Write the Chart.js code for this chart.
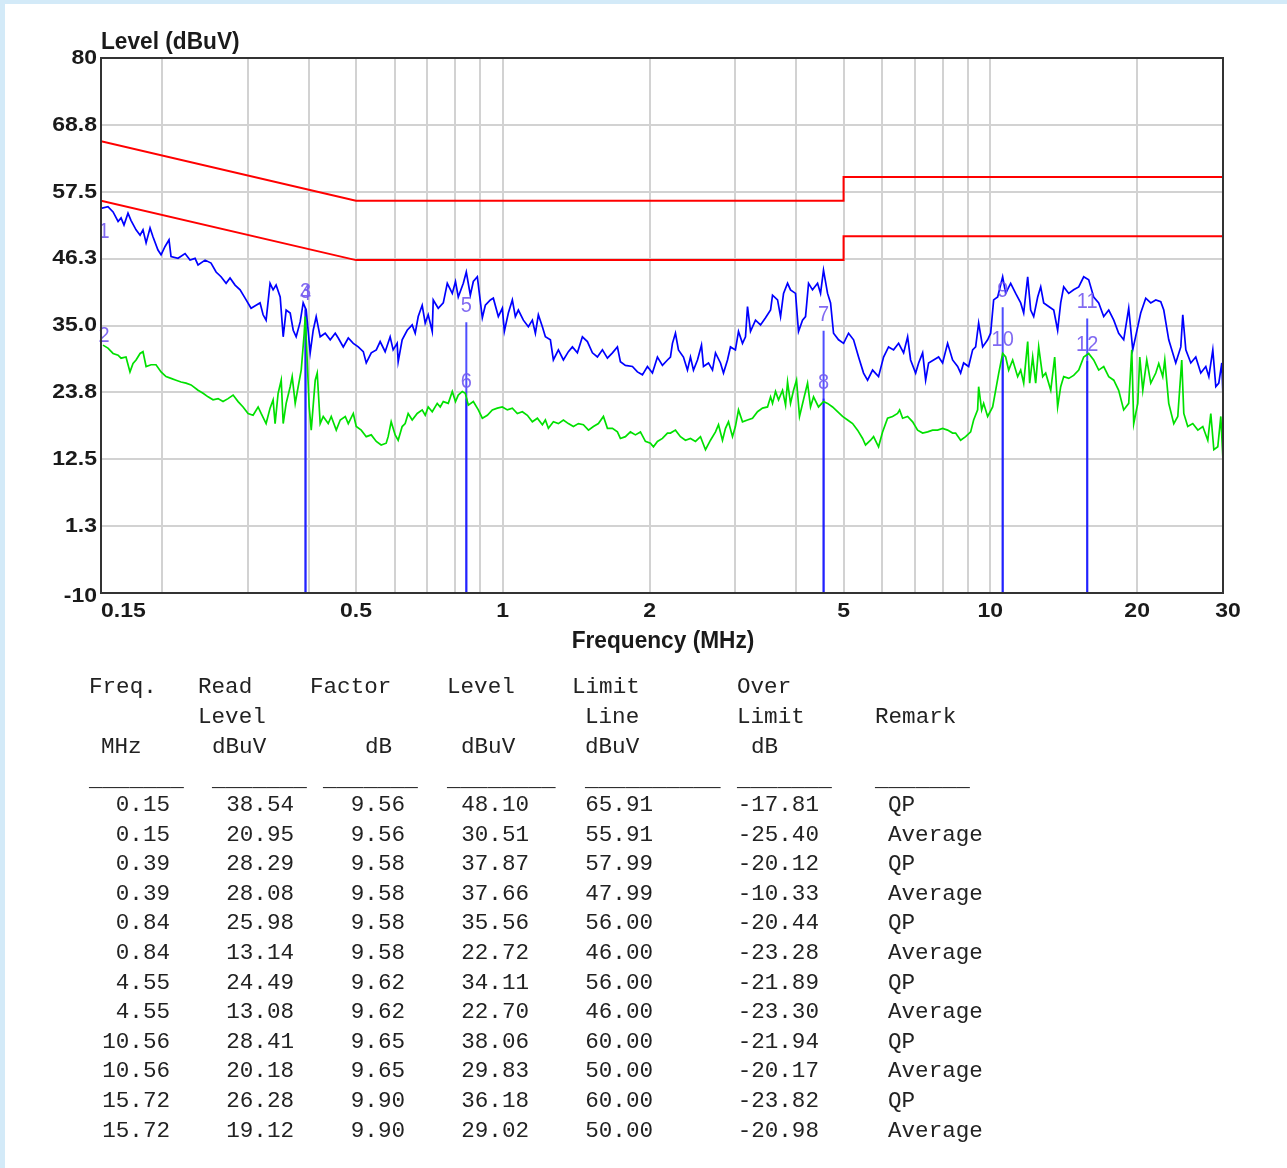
<!DOCTYPE html>
<html><head><meta charset="utf-8">
<script src="https://cdn.jsdelivr.net/npm/chart.js@4/dist/chart.umd.min.js"></script>
<style>
html,body{margin:0;padding:0;background:#fff;}
body{width:1287px;height:1168px;position:relative;overflow:hidden;}
#bandTop{position:absolute;left:0;top:0;width:1287px;height:4px;background:#d3eaf8;}
#bandLeft{position:absolute;left:0;top:0;width:5px;height:1168px;background:#d3eaf8;}
#wrap{position:absolute;left:0;top:0;width:1287px;height:665px;}
#tbl{position:absolute;left:0;top:0;width:1287px;height:1168px;font-family:"Liberation Mono",monospace;font-size:22.6px;color:#222;}
#tbl span{position:absolute;white-space:pre;line-height:26px;height:26px;}
</style></head>
<body>
<div id="bandTop"></div><div id="bandLeft"></div>
<div id="wrap"><canvas id="c" width="1287" height="665"></canvas></div>
<div id="tbl"></div>
<script>
// ---------- data ----------
const yTickValues = [-10, 1.25, 12.5, 23.75, 35, 46.25, 57.5, 68.75, 80];
const yTickLabels = ['-10', '1.3', '12.5', '23.8', '35.0', '46.3', '57.5', '68.8', '80'];
const xGridValues = [0.15,0.2,0.3,0.4,0.5,0.6,0.7,0.8,0.9,1,2,3,4,5,6,7,8,9,10,20,30];
const xLabelValues = [0.15, 0.5, 1, 2, 5, 10, 20, 30];
const xLabelTexts = ['0.15', '0.5', '1', '2', '5', '10', '20', '30'];

const qpLimitFreq = [0.15, 0.5, 5, 5, 30];
const qpLimitLevel = [66, 56, 56, 60, 60];
const avLimitFreq = [0.15, 0.5, 5, 5, 30];
const avLimitLevel = [56, 46, 46, 50, 50];

const qpFreq = [0.150,0.155,0.1588,0.1626,0.1649,0.1672,0.1704,0.1728,0.1770,0.1804,
0.1829,0.1856,0.1891,0.1918,0.1963,0.1992,0.2030,0.2068,0.2088,0.2158,
0.2231,0.2284,0.2339,0.2372,0.2452,0.2522,0.2583,0.2644,0.2708,0.2759,
0.2825,0.2893,0.2962,0.3047,0.3120,0.3179,0.3225,0.3271,0.3333,0.3381,
0.3429,0.3496,0.3546,0.3596,0.3665,0.3718,0.3770,0.3842,0.3897,0.3953,
0.4028,0.4086,0.4144,0.4223,0.4324,0.4428,0.4534,0.4599,0.4709,0.4822,
0.4937,0.5055,0.5176,0.5249,0.5375,0.5504,0.5605,0.5739,0.5876,0.5960,
0.6074,0.6103,0.6219,0.6368,0.6521,0.6614,0.6709,0.6836,0.6934,0.7033,
0.7168,0.7202,0.7374,0.7552,0.7696,0.7880,0.8000,0.8106,0.8301,0.8419,
0.8581,0.8703,0.8869,0.9081,0.9211,0.9431,0.9565,0.9794,0.998,1.0076,
1.0268,1.0464,1.0613,1.0765,1.1023,1.1286,1.1501,1.1666,1.1832,1.2058,
1.2230,1.2523,1.2701,1.3005,1.3316,1.3634,1.3895,1.4226,1.4567,1.4915,
1.5272,1.5637,1.6011,1.6394,1.6786,1.7185,1.7430,1.7846,1.8448,1.8888,
1.9340,1.9802,2.0276,2.0761,2.1258,2.1766,2.2076,2.2287,2.2604,2.2928,
2.3474,2.3922,2.4264,2.4612,2.5083,2.5562,2.5805,2.6422,2.6925,2.7310,
2.7960,2.8359,2.8902,2.9313,3.000,3.0444,3.1023,3.1467,3.1767,3.222,
3.299,3.378,3.459,3.542,3.575,3.661,3.713,3.766,3.838,3.892,
3.985,4.042,4.119,4.178,4.238,4.318,4.422,4.485,4.548,4.636,
4.702,4.769,4.883,5.000,5.119,5.242,5.367,5.495,5.600,5.734,
5.898,6.040,6.184,6.332,6.484,6.639,6.766,6.862,7.027,7.127,
7.263,7.367,7.470,7.649,7.832,7.981,8.172,8.367,8.568,8.690,
8.815,9.025,9.197,9.329,9.462,9.643,9.873,10.014,10.157,10.351,
10.598,10.75,11.007,11.27,11.54,11.705,11.928,12.098,12.271,12.505,
12.684,12.865,13.172,13.49,13.74,13.94,14.14,14.48,14.82,15.18,
15.54,15.91,16.29,16.68,17.08,17.49,17.91,18.33,18.77,19.22,
19.59,20.06,20.34,20.83,21.33,21.84,22.36,22.68,23.22,24.0,
24.58,24.81,25.17,25.77,26.38,27.01,27.66,28.06,28.59,29.0,
29.41,29.83,30.0];
const qpLevel = [54.7,55.0,54.1,52.5,53.1,51.9,53.9,52.7,51.1,50.2,
51.1,48.9,51.4,49.9,47.7,46.9,48.3,49.4,46.6,46.3,
47.1,46.0,46.3,45.2,46.0,45.5,44.0,43.2,42.1,43.0,
41.8,41.0,39.6,37.9,38.4,38.8,36.8,35.9,42.1,41.0,
41.8,39.8,33.1,37.6,37.1,34.2,33.1,35.6,38.8,37.6,
30.4,34.2,36.5,33.1,33.7,32.6,33.7,32.9,31.4,32.9,
32.0,31.4,30.6,28.7,30.4,30.9,32.3,30.6,33.1,30.9,
32.0,28.9,32.6,34.2,35.1,33.7,36.5,38.4,35.4,36.8,
34.0,39.3,37.9,38.8,42.1,40.4,42.4,39.8,42.1,44.0,
40.1,42.4,43.2,36.3,38.4,39.3,39.6,36.5,37.9,34.0,
37.1,39.3,36.5,37.6,35.9,34.8,35.9,33.7,36.8,34.8,
33.1,32.6,29.2,30.9,29.2,30.6,31.4,30.4,33.1,32.3,
30.4,29.7,30.9,29.5,30.4,31.4,28.9,28.3,28.1,27.2,
26.7,28.1,27.0,29.7,28.3,29.2,29.7,32.0,33.7,30.9,
29.7,27.5,29.7,27.5,29.2,31.7,28.1,28.7,27.5,30.4,
28.7,27.0,29.2,31.4,30.9,34.0,32.0,33.1,38.2,34.0,
35.9,35.1,36.3,37.6,40.1,39.3,36.5,40.4,42.1,41.0,
40.4,34.0,35.9,36.5,42.1,41.0,42.1,40.4,44.3,40.4,
38.8,33.7,32.6,32.0,33.7,32.6,29.7,27.0,25.8,27.5,
26.4,29.7,31.4,30.9,32.0,30.4,33.1,29.2,27.0,28.7,
30.4,25.8,28.7,29.2,29.7,28.7,32.0,29.2,28.1,27.0,
28.7,28.1,30.9,31.4,35.4,31.4,32.6,33.7,39.3,39.8,
43.2,40.4,42.1,40.4,38.8,37.1,43.2,37.6,36.5,39.8,
41.5,38.8,38.2,37.6,34.2,38.8,41.5,40.4,41.0,41.5,
43.2,42.7,39.8,38.8,36.5,37.6,35.9,33.7,32.6,37.9,
30.9,34.8,37.1,39.6,38.8,39.3,39.0,37.6,32.6,28.7,
31.4,36.8,30.9,28.7,29.7,27.0,28.1,26.4,30.9,24.7,
25.3,28.7,23.0];

const avFreq = [0.1514,0.1550,0.1588,0.1626,0.1649,0.1688,0.1720,0.1745,0.1770,0.1804,
0.1829,0.1856,0.1900,0.1945,0.1992,0.2039,0.2088,0.2138,0.2189,0.2241,
0.2295,0.2372,0.2429,0.2487,0.2546,0.2607,0.2669,0.2733,0.2799,0.2866,
0.2934,0.3004,0.3076,0.3150,0.3195,0.3271,0.3333,0.3381,0.3413,0.3462,
0.3513,0.3546,0.3596,0.3665,0.3700,0.3753,0.3806,0.3861,0.3916,0.3934,
0.3953,0.4009,0.4048,0.4125,0.4164,0.4223,0.4284,0.4386,0.4449,0.4556,
0.4642,0.4754,0.4822,0.4937,0.5007,0.5126,0.5249,0.5375,0.5504,0.5632,
0.5767,0.5821,0.5905,0.6017,0.6103,0.6219,0.6308,0.6398,0.6521,0.6677,
0.6836,0.6934,0.7033,0.7168,0.7339,0.7444,0.7552,0.7732,0.7880,0.8000,
0.8106,0.8261,0.8379,0.8500,0.8703,0.8911,0.9081,0.9298,0.9520,0.9748,
0.998,1.022,1.0464,1.0714,1.097,1.1233,1.1501,1.1777,1.2058,1.2230,
1.2405,1.2701,1.3005,1.3316,1.3634,1.3961,1.4294,1.4635,1.499,1.5345,
1.5711,1.6087,1.6394,1.6786,1.7185,1.7430,1.7846,1.8274,1.8711,1.9158,
1.9615,2.0085,2.0372,2.0761,2.1258,2.1766,2.2076,2.2604,2.3145,2.3697,
2.4264,2.4847,2.544,2.605,2.667,2.731,2.770,2.8225,2.8629,2.9037,
2.9592,3.0,3.0444,3.1023,3.1767,3.2526,3.3303,3.41,3.4916,3.542,
3.575,3.626,3.678,3.748,3.802,3.838,3.892,3.948,4.004,4.061,
4.138,4.218,4.278,4.339,4.442,4.548,4.636,4.747,4.860,4.976,
5.096,5.218,5.342,5.470,5.547,5.680,5.761,5.898,6.011,6.155,
6.302,6.453,6.515,6.608,6.766,6.928,7.093,7.263,7.437,7.613,
7.794,7.981,8.172,8.367,8.488,8.690,8.898,9.112,9.241,9.417,
9.462,9.597,9.688,9.873,10.109,10.253,10.40,10.598,10.75,10.903,
11.111,11.377,11.54,11.705,11.928,12.041,12.213,12.387,12.564,12.804,
12.986,13.30,13.55,13.74,13.94,14.14,14.48,14.82,15.18,15.54,
15.91,16.29,16.68,17.08,17.49,17.91,18.33,18.77,19.22,19.50,
19.68,20.06,20.25,20.54,20.93,21.33,21.84,22.15,22.57,22.79,
23.22,23.78,24.23,24.69,24.93,25.40,26.01,26.64,27.27,27.92,
28.32,28.73,29.27,29.69,30.0];
const avLevel = [31.7,31.2,30.3,30.0,29.5,29.7,27.2,28.6,29.2,30.3,
30.6,28.1,28.4,28.4,27.2,26.4,26.1,25.8,25.5,25.3,
25.0,24.1,23.6,23.0,22.5,22.7,22.2,22.7,23.3,22.2,
21.3,20.2,19.9,21.3,20.2,18.5,21.1,22.5,18.5,23.6,
25.8,18.5,21.9,24.7,26.4,21.9,24.7,27.5,33.7,36.5,
33.1,21.3,17.4,25.8,27.0,18.5,19.7,18.5,19.7,17.4,
19.1,19.7,18.5,20.2,18.0,17.4,16.3,16.6,15.5,14.9,
15.2,16.3,18.8,16.6,15.7,18.0,18.5,20.2,19.1,20.2,
20.8,19.9,21.3,20.5,21.9,21.3,22.2,21.9,23.9,22.2,
23.3,23.9,23.6,21.6,22.2,20.8,19.4,19.9,20.8,21.1,
21.3,20.8,21.1,20.2,20.5,19.9,18.8,19.4,18.3,19.1,
17.7,18.8,18.5,19.1,18.5,18.0,18.5,18.3,17.4,18.0,
18.5,19.7,17.7,17.7,17.1,16.0,16.3,17.1,16.6,17.1,
15.5,15.2,14.6,15.5,16.0,16.9,16.9,17.4,16.3,15.7,
16.0,15.5,16.3,14.1,15.7,17.1,18.3,15.7,17.7,18.8,
16.3,18.0,20.8,18.8,19.1,19.4,20.5,21.1,21.3,23.0,
21.9,23.9,22.5,24.1,21.6,25.5,21.9,24.1,25.8,19.7,
22.5,25.3,21.3,23.0,21.3,22.2,21.9,21.3,20.5,19.7,
19.1,18.5,17.4,16.0,14.9,15.7,16.3,14.6,17.1,19.4,
19.7,20.2,20.8,19.4,19.7,18.8,17.4,16.9,17.1,17.4,
17.4,17.7,17.4,16.9,16.9,15.7,16.3,17.1,19.1,20.8,
24.7,20.8,21.9,19.7,21.3,24.1,26.9,30.3,29.7,27.5,
29.2,26.4,27.5,25.3,32.3,25.3,29.7,25.3,31.4,26.4,
27.0,24.1,29.7,21.3,24.7,26.4,26.1,26.6,27.5,29.7,
30.3,29.2,27.5,28.1,26.4,25.8,24.1,20.8,21.9,30.9,
18.5,21.9,29.7,24.1,29.2,25.3,27.0,28.6,26.4,29.2,
21.9,18.5,19.7,29.2,20.2,18.0,18.5,17.4,18.0,15.7,
20.2,14.1,14.6,19.7,12.4];

// table / markers
const tblFreq = [0.15,0.15,0.39,0.39,0.84,0.84,4.55,4.55,10.56,10.56,15.72,15.72];
const tblRead = [38.54,20.95,28.29,28.08,25.98,13.14,24.49,13.08,28.41,20.18,26.28,19.12];
const tblFactor = [9.56,9.56,9.58,9.58,9.58,9.58,9.62,9.62,9.65,9.65,9.90,9.90];
const tblLevel = [48.10,30.51,37.87,37.66,35.56,22.72,34.11,22.70,38.06,29.83,36.18,29.02];
const tblLimit = [65.91,55.91,57.99,47.99,56.00,46.00,56.00,46.00,60.00,50.00,60.00,50.00];
const tblOver = [-17.81,-25.40,-20.12,-10.33,-20.44,-23.28,-21.89,-23.30,-21.94,-20.17,-23.82,-20.98];
const tblRemark = ['QP','Average','QP','Average','QP','Average','QP','Average','QP','Average','QP','Average'];
// marker positions as seen on the plot
const mkFreq = [0.15,0.15,0.394,0.394,0.842,0.842,4.55,4.55,10.6,10.6,15.8,15.8];

// ---------- chart ----------
const pts = (fx, ly) => fx.map((f, i) => ({x: f, y: ly[i]}));
const datasets = [
  {data: pts(avFreq, avLevel), borderColor: '#00e000', borderWidth: 1.7},
  {data: pts(qpFreq, qpLevel), borderColor: '#0000ff', borderWidth: 1.7},
  {data: pts(qpLimitFreq, qpLimitLevel), borderColor: '#ff0000', borderWidth: 2},
  {data: pts(avLimitFreq, avLimitLevel), borderColor: '#ff0000', borderWidth: 2},
];
mkFreq.forEach((f, i) => {
  datasets.push({data: [{x: f, y: -10}, {x: f, y: tblLevel[i]}], borderColor: 'rgba(20,20,255,0.75)', borderWidth: 2, clip: 4});
});
datasets.forEach(d => { d.pointRadius = 0; d.tension = 0; d.fill = false; });

function txt(ctx, s, x, y, align, font, sx, sy, color) {
  ctx.save();
  ctx.translate(x, y);
  ctx.scale(sx, sy);
  ctx.font = font;
  ctx.textAlign = align;
  ctx.textBaseline = 'middle';
  ctx.fillStyle = color;
  ctx.fillText(s, 0, 0);
  ctx.restore();
}
const TF = "bold 20px 'Liberation Sans', Arial, sans-serif";
const deco = {
  id: 'deco',
  afterDatasetsDraw(chart) {
    const {ctx, scales: {x, y}} = chart;
    mkFreq.forEach((f, i) => {
      let px = x.getPixelForValue(f);
      if (i < 2) px += 3;
      const py = y.getPixelForValue(tblLevel[i]) - 16;
      txt(ctx, String(i + 1), px, py, 'center', "20px 'Liberation Sans', Arial, sans-serif", 1, 1.08, 'rgba(115,90,240,0.9)');
    });
  },
  afterDraw(chart) {
    const {ctx, chartArea: a, scales: {x, y}} = chart;
    ctx.save();
    ctx.strokeStyle = '#333';
    ctx.lineWidth = 2;
    ctx.strokeRect(a.left, a.top, a.right - a.left, a.bottom - a.top);
    ctx.restore();
    yTickValues.forEach((v, i) => {
      const py = y.getPixelForValue(v) + (i === 0 ? 3 : 0);
      txt(ctx, yTickLabels[i], 97, py, 'right', TF, 1.15, 1.05, '#1a1a1a');
    });
    xLabelValues.forEach((v, i) => {
      let px = x.getPixelForValue(v);
      let al = 'center';
      if (i === 0) { al = 'left'; }
      if (i === xLabelValues.length - 1) px += 5;
      txt(ctx, xLabelTexts[i], px, 611, al, TF, 1.15, 1.05, '#1a1a1a');
    });
    txt(ctx, 'Level (dBuV)', 101, 42, 'left', "bold 21px 'Liberation Sans', Arial, sans-serif", 1.08, 1.15, '#1a1a1a');
    txt(ctx, 'Frequency (MHz)', 663, 641, 'center', "bold 21px 'Liberation Sans', Arial, sans-serif", 1.08, 1.15, '#1a1a1a');
  }
};

new Chart(document.getElementById('c'), {
  type: 'line',
  data: {datasets},
  plugins: [deco],
  options: {
    responsive: false,
    animation: false,
    devicePixelRatio: 1,
    layout: {padding: {left: 0, right: 64, top: 58, bottom: 0}},
    plugins: {legend: {display: false}, tooltip: {enabled: false}},
    scales: {
      x: {
        type: 'logarithmic', min: 0.15, max: 30,
        afterBuildTicks: ax => { ax.ticks = xGridValues.map(v => ({value: v})); },
        afterFit: ax => { ax.height = 72; },
        ticks: {display: false, autoSkip: false},
        grid: {color: '#d2d2d2', lineWidth: 2, drawTicks: false},
        border: {display: false}
      },
      y: {
        type: 'linear', min: -10, max: 80,
        afterBuildTicks: ax => { ax.ticks = yTickValues.map(v => ({value: v})); },
        afterFit: ax => { ax.width = 101; },
        ticks: {display: false},
        grid: {color: '#d2d2d2', lineWidth: 2, drawTicks: false},
        border: {display: false}
      }
    }
  }
});

// ---------- table ----------
const tbl = document.getElementById('tbl');
function put(s, x, cy, right) {
  const e = document.createElement('span');
  e.textContent = s;
  e.style.top = (cy - 13) + 'px';
  if (right) e.style.right = (1287 - x) + 'px'; else e.style.left = x + 'px';
  tbl.appendChild(e);
}
const headers = [
  ['Freq.', 89, 687], ['Read', 198, 687], ['Factor', 310, 687], ['Level', 447, 687], ['Limit', 572, 687], ['Over', 737, 687],
  ['Level', 198, 717], ['Line', 585, 717], ['Limit', 737, 717], ['Remark', 875, 717],
  ['MHz', 101, 747], ['dBuV', 212, 747], ['dB', 365, 747], ['dBuV', 461, 747], ['dBuV', 585, 747], ['dB', 751, 747],
  ['_______', 89, 780], ['_______', 212, 780], ['_______', 323, 780], ['________', 447, 780], ['__________', 585, 780], ['_______', 737, 780], ['_______', 875, 780]
];
headers.forEach(h => put(h[0], h[1], h[2], false));
tblFreq.forEach((f, i) => {
  const cy = 805 + i * 29.6;
  put(f.toFixed(2), 170, cy, true);
  put(tblRead[i].toFixed(2), 294, cy, true);
  put(tblFactor[i].toFixed(2), 405, cy, true);
  put(tblLevel[i].toFixed(2), 529, cy, true);
  put(tblLimit[i].toFixed(2), 653, cy, true);
  put(tblOver[i].toFixed(2), 819, cy, true);
  put(tblRemark[i], 888, cy, false);
});
</script>
</body></html>
